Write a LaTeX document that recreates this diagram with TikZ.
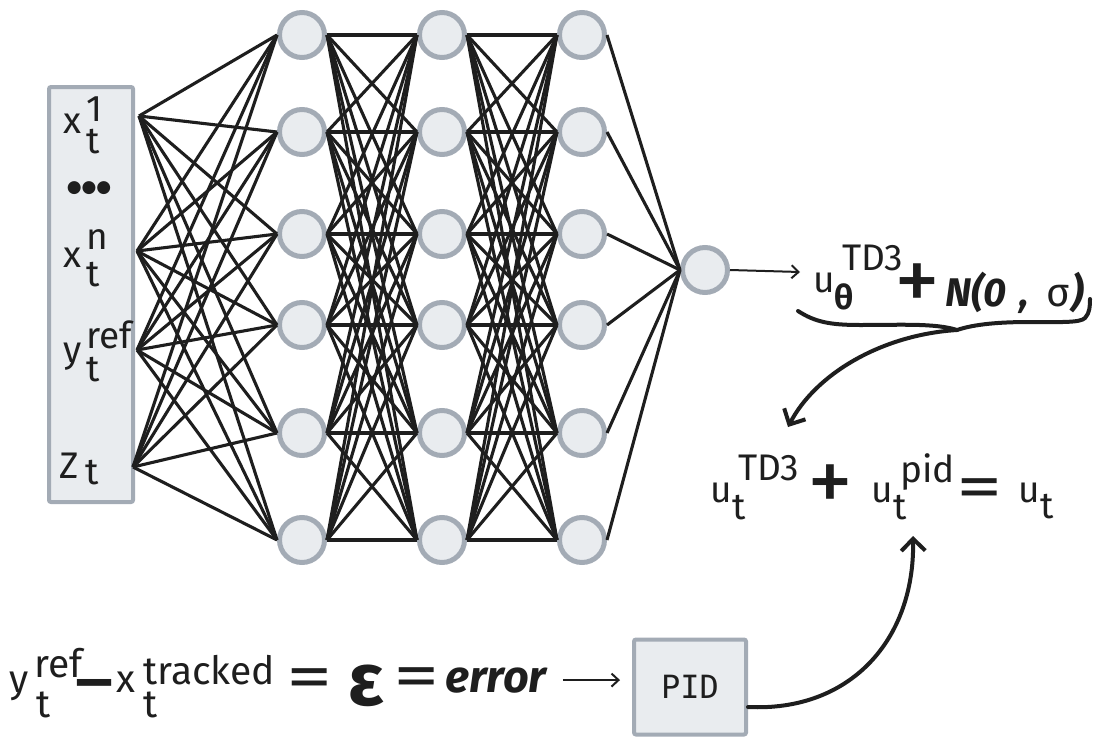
\documentclass[tikz,border=0pt]{standalone}
\usepackage{fontspec}
\usepackage{graphicx}
\setmainfont{Fira Sans}
\newfontfamily\pidfont{DejaVu Sans Mono}
\newfontfamily\dotfont{DejaVu Sans}
\usetikzlibrary{arrows.meta,calc}
\definecolor{nfill}{HTML}{E9ECEF}
\definecolor{nstroke}{HTML}{A3ABB5}
\definecolor{ink}{HTML}{1E1E1E}
\begin{document}
\begin{tikzpicture}[x=1pt,y=-1pt,
  neuron/.style={circle, draw=nstroke, fill=nfill, line width=5pt, minimum size=45pt, inner sep=0pt},
  boxst/.style={draw=nstroke, fill=nfill, line width=4pt, rounded corners=2pt, inner sep=0pt},
  wire/.style={draw=ink, line width=3.1pt},
  lbl/.style={inner sep=0pt, anchor=base west, text=ink, font=\fontsize{37}{42}\selectfont},
  sym/.style={inner sep=0pt, anchor=center, text=ink, font=\fontsize{92}{92}\selectfont},
  eqsym/.style={inner sep=0pt, anchor=center, text=ink, font=\fontsize{64}{64}\selectfont},
  thinarrow/.style={draw=ink, line width=2pt, -{Straight Barb[length=7pt,width=13pt]}},
  thickarrow/.style={draw=ink, line width=4pt, line cap=round, -{Straight Barb[length=12pt,width=24pt,line width=4pt]}}
]
\useasboundingbox (0,0) rectangle (1093,739);

% input box
\node[boxst, anchor=north west, minimum width=84pt, minimum height=415pt] (inbox) at (47,85) {};
\coordinate (in1) at (139,116);
\coordinate (in2) at (137,251);
\coordinate (in3) at (137,350);
\coordinate (in4) at (133,467);

% neurons
\foreach \y [count=\j] in {35,132,234,325,433,540} {
  \node[neuron] (a\j) at (302,\y) {};
  \node[neuron] (b\j) at (442,\y) {};
  \node[neuron] (c\j) at (582,\y) {};
}
\node[neuron] (out) at (705,270) {};

% connections
\foreach \i in {1,...,4} {
  \foreach \j in {1,...,6} {
    \draw[wire] (in\i) -- (a\j.west);
  }
}
\foreach \i in {1,...,6} {
  \foreach \j in {1,...,6} {
    \draw[wire] (a\i.east) -- (b\j.west);
    \draw[wire] (b\i.east) -- (c\j.west);
  }
  \draw[wire] (c\i.east) -- (out.west);
}

% input labels
\node[lbl] (x1) at (63,133) {x};
\node[lbl] (x1s) at (86,121) {1};
\node[lbl] (x1t) at (86,153) {t};
\node[inner sep=0pt, text=ink, font=\fontsize{17}{20}\selectfont\dotfont] (dots) at (89,188) {●●●};
\node[lbl] (xn) at (63,267) {x};
\node[lbl] (xns) at (86,249) {n};
\node[lbl] (xnt) at (86,286) {t};
\node[lbl] (yr) at (63,362) {y};
\node[lbl] (yrs) at (86,348) {ref};
\node[lbl] (yrt) at (86,381) {t};
\node[lbl] (z) at (59,478) {Z};
\node[lbl] (zt) at (85,484) {t};

% output expression
\node[lbl] (u1) at (813,292) {u};
\node[lbl, font=\fontsize{34}{38}\selectfont\bfseries] (u1s) at (834,309) {θ};
\node[lbl] (u1t) at (842,270) {TD3};
\node[sym] (plus1) at (917,288) {+};
\node[lbl, font=\fontsize{40}{44}\selectfont] (noise) at (945,306) {{\bfseries\itshape N(0\kern3pt\ ,\ \ }σ{\bfseries\itshape\kern1pt)}};
\coordinate (oarrow) at (800,272);
\draw[thinarrow] (out.east) -- (oarrow);

% brace
\coordinate (cusp) at (957,330);
\draw[ink, line width=4pt, line cap=round, line join=round]
  (798,311) .. controls (815,322) and (830,325) .. (860,325)
  .. controls (900,325) and (935,323) .. (cusp)
  .. controls (975,324) and (1000,322) .. (1030,322)
  .. controls (1060,322) and (1080,323) .. (1085,318)
  .. controls (1090,313) and (1090,305) .. (1090,299);
\coordinate (tdtarget) at (788,427);
\draw[thickarrow] (cusp) .. controls (880,335) and (815,375) .. (tdtarget);

% sum equation
\node[lbl] (u2) at (710,502) {u};
\node[lbl] (u2t) at (732,519) {t};
\node[lbl] (u2s) at (738,480) {TD3};
\node[sym] (plus2) at (830,489) {+};
\node[lbl] (u3) at (871,502) {u};
\node[lbl] (u3t) at (893,519) {t};
\node[lbl] (u3s) at (900,482) {pid};
\node[eqsym] (eq3) at (980,494) {\scalebox{1.45}[1]{=}};
\node[lbl] (u4) at (1018,502) {u};
\node[lbl] (u4t) at (1040,518) {t};

% error line
\node[lbl, font=\fontsize{39}{44}\selectfont] (ey) at (9,692) {y};
\node[lbl, font=\fontsize{39}{44}\selectfont] (eys) at (34,677) {ref};
\node[lbl, font=\fontsize{39}{44}\selectfont] (eyt) at (36,717) {t};
\node[eqsym, font=\fontsize{56}{60}\selectfont\bfseries] (minus) at (95,690) {\scalebox{1.45}[1]{−}};
\node[lbl, font=\fontsize{39}{44}\selectfont] (ex) at (116,692) {x};
\node[lbl, font=\fontsize{39}{44}\selectfont] (exs) at (143,684) {tracked};
\node[lbl, font=\fontsize{39}{44}\selectfont] (ext) at (143,717) {t};
\node[eqsym] (eq1) at (310,684) {\scalebox{1.45}[1]{=}};
\node[sym, font=\fontsize{74}{74}\selectfont\bfseries] (eps) at (366,686) {ε};
\node[eqsym] (eq2) at (417,683) {\scalebox{1.45}[1]{=}};
\node[lbl, font=\fontsize{45}{50}\selectfont\bfseries\itshape] (err) at (445,692) {error};

% PID box
\node[boxst, minimum width=112pt, minimum height=95pt, font=\fontsize{32}{36}\selectfont\pidfont, text=ink] (pid) at (690,687) {PID};
\draw[thinarrow] ($(err.east)+(16,0)$) -- ($(pid.west |- err.east)+(-12,0)$);
\coordinate (pidtarget) at (913,536);
\draw[thickarrow] ([yshift=-20pt]pid.east) .. controls (850,712) and (915,640) .. (pidtarget);
\end{tikzpicture}
\end{document}
